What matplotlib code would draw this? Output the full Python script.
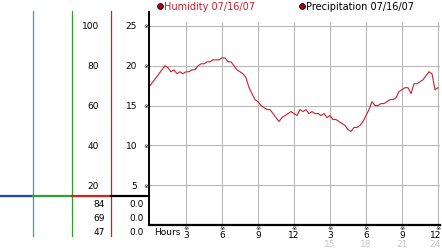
import matplotlib
matplotlib.use('Agg')
import matplotlib.pyplot as plt
from matplotlib.lines import Line2D
import numpy as np

# humidity readings every 15 minutes, 07/16/07
hours = np.arange(0, 24.01, 0.25)
humidity = [
    70, 72, 74, 76, 78, 80, 79, 77, 78, 76, 77, 76,
    77, 77, 78, 78, 80, 81, 81, 82, 82, 83, 83, 83,
    84, 84, 82, 82, 80, 78, 77, 76, 74, 69, 66, 63,
    62, 60, 59, 58, 58, 56, 54, 52, 54, 55, 56, 57,
    56, 55, 58, 57, 58, 56, 57, 56, 56, 55, 56, 54,
    55, 53, 53, 52, 51, 50, 48, 47, 49, 49, 50, 52,
    55, 58, 62, 60, 60, 61, 61, 62, 63, 63, 64, 67,
    68, 69, 69, 66, 71, 71, 72, 73, 75, 77, 76, 68,
    69,
]
hum_ticks = [20, 40, 60, 80, 100]
precip_ticks = [5, 10, 15, 20, 25]
hour_ticks = [3, 6, 9, 12, 15, 18, 21, 24]
hour_labels = ['3', '6', '9', '12', '3', '6', '9', '12']
hour_labels2 = ['', '', '', '', '15', '18', '21', '24']
hum_stats = ['84', '69', '47']
precip_stats = ['0.0', '0.0', '0.0']

W, H = 442, 253
FS = 6.5
RED = '#cc1f2e'
GRID = '#b8b8b8'


def fx(x):
    return x / W


def fy(y):
    return 1 - y / H


fig = plt.figure(figsize=(W / 100, H / 100), dpi=100)
fig.patch.set_facecolor('white')

ax = fig.add_axes([fx(149), fy(226), (440 - 149) / W, (226 - 27) / H])
ax.set_xlim(-1 / 12, 290 / 12)
ax.set_ylim(0, 100)
ax.axis('off')

# grid
for v in hum_ticks:
    ax.axhline(v, color=GRID, lw=0.8, zorder=1)
ax.vlines(hour_ticks, 0, 102, color=GRID, lw=0.8, zorder=1, clip_on=False)

ax.plot(hours, humidity, color=RED, lw=0.8, zorder=3)

# y labels on the left, positioned through the axes y scale
ytrans = matplotlib.transforms.blended_transform_factory(fig.transFigure, ax.transData)
for h, p in zip(hum_ticks, precip_ticks):
    fig.text(fx(99), h, str(h), transform=ytrans, ha='right', va='center', fontsize=FS)
    fig.text(fx(137), h, str(p), transform=ytrans, ha='right', va='center', fontsize=FS)
    fig.text(fx(146), h, '\u203b', transform=ytrans, ha='center', va='center', fontsize=4.5)

# hour labels
xtrans = matplotlib.transforms.blended_transform_factory(ax.transData, fig.transFigure)
for t, l1, l2 in zip(hour_ticks, hour_labels, hour_labels2):
    last = t == hour_ticks[-1]
    ha = 'right' if last else 'center'
    xt = 24.25 if last else t
    fig.text(t, fy(229), '\u203b', transform=xtrans, ha='center', va='center', fontsize=4.5)
    fig.text(xt, fy(235.5), l1, transform=xtrans, ha=ha, va='center', fontsize=FS)
    if l2:
        fig.text(xt, fy(244.5), l2, transform=xtrans, ha=ha, va='center',
                 fontsize=FS, color='#c8c8c8')
fig.text(fx(154), fy(232.5), 'Hours', ha='left', va='center', fontsize=FS)

# axis frame
fig.add_artist(Line2D([fx(149), fx(149)], [fy(13), fy(226)], color='black', lw=1.4))
fig.add_artist(Line2D([fx(149), fx(440)], [fy(225.5), fy(225.5)], color='black', lw=1.6))

# left key columns
for x, c in [(33, '#2f9fd0'), (72, '#2ea02e'), (111, '#cc2222')]:
    fig.add_artist(Line2D([fx(x), fx(x)], [fy(12), fy(237)], color=c, lw=0.9))
for x0, x1, c in [(0, 33, '#1a44d8'), (33, 72, '#2ea02e'), (72, 111, '#d42020'), (111, 149, 'black')]:
    fig.add_artist(Line2D([fx(x0), fx(x1)], [fy(197), fy(197)], color=c, lw=1.6))

for i, (hs, ps) in enumerate(zip(hum_stats, precip_stats)):
    y = 205 + i * 14
    fig.text(fx(105), fy(y), hs, ha='right', va='center', fontsize=FS)
    fig.text(fx(144), fy(y), ps, ha='right', va='center', fontsize=FS)

# legend at top
for x, label, c in [(160, 'Humidity 07/16/07', RED), (302, 'Precipitation 07/16/07', 'black')]:
    fig.add_artist(Line2D([fx(x)], [fy(7)], marker='o', markersize=4.2,
                          markerfacecolor='#b00018', markeredgecolor='black', markeredgewidth=0.6))
    fig.text(fx(x + 3.5), fy(7), label, ha='left', va='center', fontsize=7, color=c)

fig.savefig('out.png', dpi=100)
